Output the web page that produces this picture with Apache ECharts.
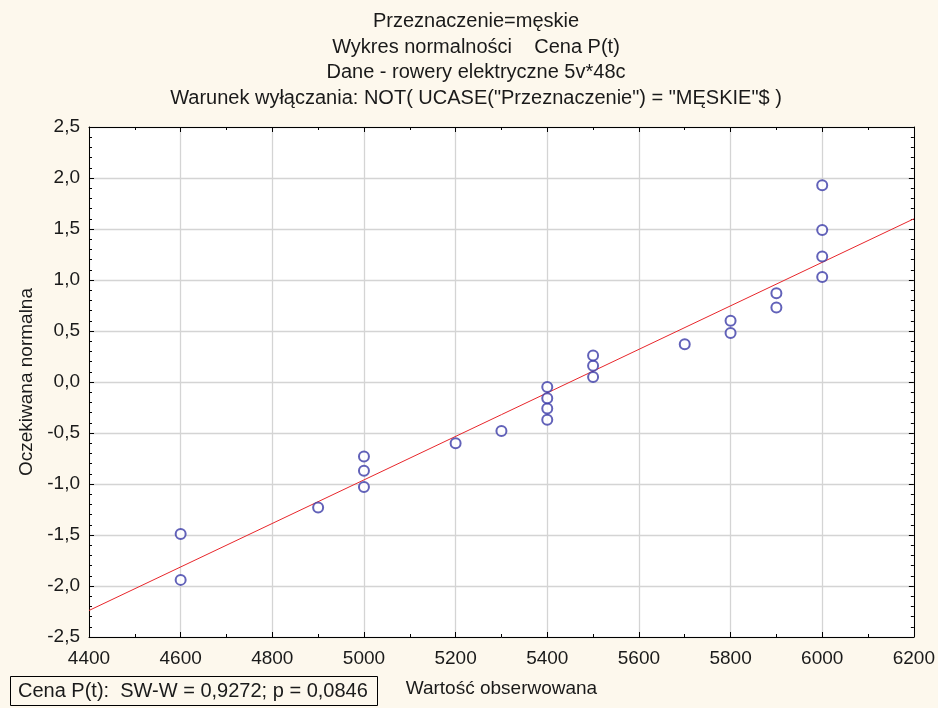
<!DOCTYPE html>
<html>
<head>
<meta charset="utf-8">
<script src="https://cdn.jsdelivr.net/npm/echarts@6/dist/echarts.min.js"></script>
<style>
  html, body { margin: 0; padding: 0; background: #fdf8ed; }
  #chart { width: 938px; height: 708px; }
</style>
</head>
<body>
<div id="chart"></div>
<script>
var titleLines = [
  'Przeznaczenie=męskie',
  'Wykres normalności    Cena P(t)',
  'Dane - rowery elektryczne 5v*48c',
  'Warunek wyłączania: NOT( UCASE("Przeznaczenie") = "MĘSKIE"$ )'
]
var xName = 'Wartość obserwowana'
var yName = 'Oczekiwana normalna'
var statText = 'Cena P(t):  SW-W = 0,9272; p = 0,0846'

// observed price vs expected normal score
var observed = [4600, 4600, 4900, 5000, 5000, 5000, 5200, 5300, 5400, 5400, 5400, 5400,
  5500, 5500, 5500, 5700, 5800, 5800, 5900, 5900, 6000, 6000, 6000, 6000]
var expected = [-1.94, -1.49, -1.23, -1.03, -0.87, -0.73, -0.60, -0.48, -0.37, -0.26, -0.16, -0.05,
  0.05, 0.16, 0.26, 0.37, 0.48, 0.60, 0.73, 0.87, 1.03, 1.23, 1.49, 1.93]

// fitted line end points
var fitX = [4400, 6200]
var fitY = [-2.24, 1.60]

var xMin = 4400, xMax = 6200, xStep = 200
var yMin = -2.5, yMax = 2.5, yStep = 0.5

var font = 'Liberation Sans, Arial, sans-serif'
var textColor = '#1a1a1a'
var chart = echarts.init(document.getElementById('chart'))

function yLabel(v) {
  return v.toFixed(1).replace('.', ',')
}

function xLabel(v) {
  return String(v)
}

var axisLine = { show: true, onZero: false, lineStyle: { color: '#000', width: 1 } }
var axisTick = { show: true, inside: true, length: 5, lineStyle: { color: '#000' } }
var gridLine = { show: true, lineStyle: { color: '#d4d4d4', width: 1.3 } }

var option = {
  backgroundColor: '#fdf8ed',
  animation: false,
  title: {
    text: titleLines.join('\n'),
    left: 476,
    top: 9,
    padding: 0,
    textAlign: 'center',
    textStyle: { fontFamily: font, fontSize: 20, fontWeight: 'normal', color: textColor, lineHeight: 25.5 }
  },
  grid: {
    left: 89, top: 127, right: 24, bottom: 71,
    show: true, backgroundColor: '#ffffff', borderWidth: 0
  },
  xAxis: [
    {
      type: 'value', min: xMin, max: xMax, interval: xStep,
      name: xName, nameLocation: 'middle', nameGap: 42,
      nameTextStyle: { fontFamily: font, fontSize: 19, color: textColor },
      axisLine: axisLine, axisTick: axisTick,
      minorTick: { show: true, splitNumber: 2, length: 3, lineStyle: { color: '#000' } },
      axisLabel: { fontFamily: font, fontSize: 19, color: textColor, margin: 12, formatter: xLabel },
      splitLine: gridLine
    },
    {
      type: 'value', position: 'top', min: xMin, max: xMax, interval: xStep,
      axisLine: axisLine, axisTick: axisTick,
      minorTick: { show: true, splitNumber: 2, length: 3, lineStyle: { color: '#000' } },
      axisLabel: { show: false }, splitLine: { show: false }
    }
  ],
  yAxis: [
    {
      type: 'value', min: yMin, max: yMax, interval: yStep,
      name: yName, nameLocation: 'middle', nameGap: 52,
      nameTextStyle: { fontFamily: font, fontSize: 19, color: textColor },
      axisLine: axisLine, axisTick: axisTick,
      minorTick: { show: true, splitNumber: 5, length: 3, lineStyle: { color: '#000' } },
      axisLabel: { fontFamily: font, fontSize: 19, color: textColor, margin: 9, formatter: yLabel },
      splitLine: gridLine
    },
    {
      type: 'value', position: 'right', min: yMin, max: yMax, interval: yStep,
      axisLine: axisLine, axisTick: axisTick,
      minorTick: { show: true, splitNumber: 5, length: 3, lineStyle: { color: '#000' } },
      axisLabel: { show: false }, splitLine: { show: false }
    }
  ],
  series: [
    {
      type: 'line',
      data: fitX.map(function (x, i) { return [x, fitY[i]] }),
      symbol: 'none',
      silent: true,
      lineStyle: { color: '#e8262b', width: 1 },
      z: 2
    },
    {
      type: 'scatter',
      data: observed.map(function (x, i) { return [x, expected[i]] }),
      symbol: 'emptyCircle',
      symbolSize: 10,
      itemStyle: { color: '#3b3ba8', borderColor: '#3b3ba8', borderWidth: 1.3 },
      z: 3
    }
  ],
  graphic: [
    {
      type: 'rect',
      shape: { x: 10.5, y: 676.5, width: 367, height: 29 },
      style: { fill: 'none', stroke: '#000', lineWidth: 1 }
    },
    {
      type: 'text',
      x: 18, y: 691,
      style: { text: statText, font: '20px ' + font, fill: textColor, textVerticalAlign: 'middle' }
    }
  ]
}

chart.setOption(option)
</script>
</body>
</html>
